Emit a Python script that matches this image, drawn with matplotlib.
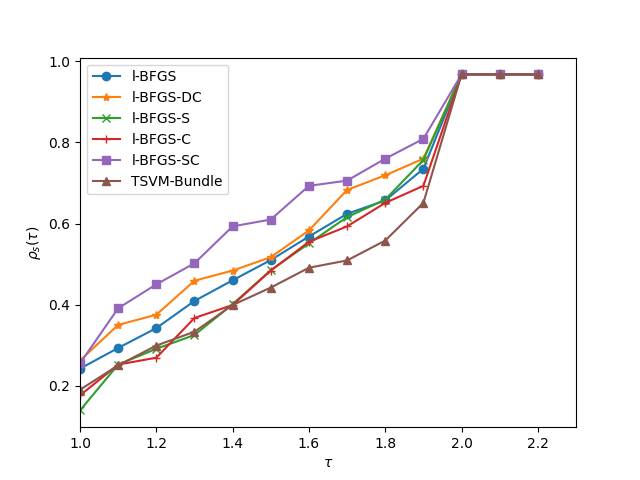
import numpy as np
import matplotlib
matplotlib.use("Agg")
import matplotlib.pyplot as plt

tau = [1.0, 1.1, 1.2, 1.3, 1.4, 1.5, 1.6, 1.7, 1.8, 1.9, 2.0, 2.1, 2.2]

lbfgs = [0.242, 0.293, 0.342, 0.409, 0.460, 0.510, 0.568, 0.624, 0.657, 0.735, 0.968, 0.968, 0.968]
lbfgs_dc = [0.262, 0.350, 0.375, 0.459, 0.484, 0.517, 0.583, 0.683, 0.719, 0.760, 0.968, 0.968, 0.968]
lbfgs_s = [0.139, 0.252, 0.291, 0.325, 0.401, 0.485, 0.551, 0.616, 0.659, 0.757, 0.968, 0.968, 0.968]
lbfgs_c = [0.176, 0.252, 0.269, 0.367, 0.399, 0.484, 0.555, 0.593, 0.651, 0.693, 0.968, 0.968, 0.968]
lbfgs_sc = [0.255, 0.391, 0.450, 0.502, 0.593, 0.610, 0.693, 0.706, 0.760, 0.809, 0.968, 0.968, 0.968]
tsvm_bundle = [0.190, 0.250, 0.299, 0.333, 0.399, 0.442, 0.491, 0.509, 0.558, 0.651, 0.968, 0.968, 0.968]

series = [
    ("l-BFGS", lbfgs, "o"),
    ("l-BFGS-DC", lbfgs_dc, "*"),
    ("l-BFGS-S", lbfgs_s, "x"),
    ("l-BFGS-C", lbfgs_c, "+"),
    ("l-BFGS-SC", lbfgs_sc, "s"),
    ("TSVM-Bundle", tsvm_bundle, "^"),
]

fig, ax = plt.subplots(figsize=(6.4, 4.8), dpi=100)

for label, values, marker in series:
    ax.plot(tau, values, marker=marker, label=label)

ax.set_xlim(1.0, 2.3)
ax.set_xlabel(r"$\tau$")
ax.set_ylabel(r"$\rho_s(\tau)$")
ax.legend(loc="upper left")

fig.savefig("out.png", dpi=100)
